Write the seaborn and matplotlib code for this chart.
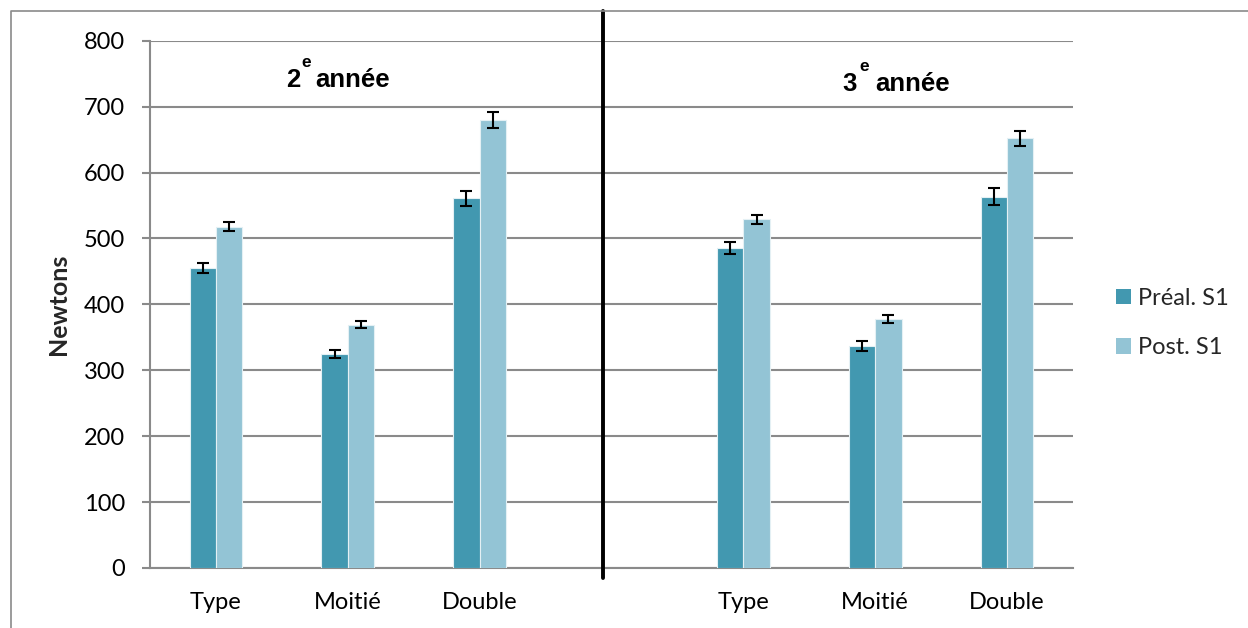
import matplotlib
matplotlib.use("Agg")
import matplotlib.pyplot as plt
from matplotlib.lines import Line2D
from matplotlib.patches import Patch
import seaborn as sns
import pandas as pd

# Exercises measured for each school year
exercises = ["Type", "Moitié", "Double"]
series = ["Préal. S1", "Post. S1"]

# Mean force (N) per exercise
preal_2e = [455, 325, 561]
post_2e = [518, 369, 680]
preal_3e = [486, 337, 563]
post_3e = [529, 378, 652]

# Error bar half-widths (N)
err_preal_2e = [8, 6.5, 11.5]
err_post_2e = [7, 5.5, 12.5]
err_preal_3e = [9, 8, 13]
err_post_3e = [6.5, 6, 11.5]

y_ticks = [0, 100, 200, 300, 400, 500, 600, 700, 800]

dark = "#4298B0"
light = "#93C4D5"

# Slots: three exercises per year, separated by an empty slot
slot_order = [f"2e {e}" for e in exercises] + ["sep"] + [f"3e {e}" for e in exercises]
slot_labels = exercises + [""] + exercises

rows = []
for year, pre, post, epre, epost in [
    ("2e", preal_2e, post_2e, err_preal_2e, err_post_2e),
    ("3e", preal_3e, post_3e, err_preal_3e, err_post_3e),
]:
    for i, ex in enumerate(exercises):
        rows.append({"slot": f"{year} {ex}", "series": series[0], "value": pre[i], "err": epre[i]})
        rows.append({"slot": f"{year} {ex}", "series": series[1], "value": post[i], "err": epost[i]})
df = pd.DataFrame(rows)

sns.set_theme(style="white")
plt.rcParams["font.family"] = ["Lato", "DejaVu Sans"]

fig = plt.figure(figsize=(12.48, 6.28), dpi=100)
ax = fig.add_axes([150 / 1248, 1 - 568 / 628, 923 / 1248, (568 - 40.7) / 628])

sns.barplot(
    data=df, x="slot", y="value", hue="series",
    order=slot_order, hue_order=series, palette=[dark, light], saturation=1,
    width=0.4, errorbar=None, edgecolor="#e4f0f4", linewidth=0.8,
    legend=False, ax=ax, zorder=3,
)

# Error bars placed on the drawn bars
lookup = df.set_index(["slot", "series"])["err"]
for container, name in zip(ax.containers, series):
    for bar in container:
        h = bar.get_height()
        if h != h:
            continue
        xc = bar.get_x() + bar.get_width() / 2
        slot = slot_order[int(round(xc))]
        ax.errorbar(xc, h, yerr=lookup[(slot, name)], fmt="none", ecolor="black",
                    elinewidth=1.5, capsize=4.5, capthick=1.5, zorder=4)

ax.set_ylim(0, 800)
ax.set_yticks(y_ticks)
ax.set_xlim(-0.5, len(slot_order) - 0.5)
ax.set_xticks(range(len(slot_order)))
ax.set_xticklabels(slot_labels)
ax.set_xlabel("")
ax.set_ylabel("Newtons", fontsize=18, fontweight="bold", labelpad=10)

ax.yaxis.grid(True, color="#8a8a8a", linewidth=1.5)
ax.set_axisbelow(True)
for s in ["top", "right"]:
    ax.spines[s].set_visible(False)
for s in ["left", "bottom"]:
    ax.spines[s].set_color("#8a8a8a")
    ax.spines[s].set_linewidth(1.5)
ax.tick_params(axis="y", which="both", left=True, length=6, width=1.5, color="#8a8a8a",
               pad=12, labelsize=17, labelcolor="black")
ax.tick_params(axis="x", length=0, pad=17, labelsize=17, labelcolor="black")


def year_heading(x, y, digit, dx_sup, dx_word):
    """Bold heading like '2e année' with a raised superscript."""
    kw = dict(family="Liberation Sans", fontweight="bold", va="baseline", color="black")
    ax.text(x, y, digit, ha="right", fontsize=18.5, **kw)
    ax.annotate("e", (x, y), xytext=(dx_sup, 14.5), textcoords="offset points",
                ha="left", fontsize=12.5, **kw)
    ax.annotate("année", (x, y), xytext=(dx_word, 0), textcoords="offset points",
                ha="left", fontsize=18.5, **kw)


year_heading(0.638, 730, "2", 0.6, 11.0)
year_heading(4.860, 724, "3", 2.0, 13.0)

# Separator between the two years
fig.add_artist(Line2D([602.7 / 1248, 602.7 / 1248], [1 - 11 / 628, 1 - 578 / 628],
                      color="black", linewidth=2.8, transform=fig.transFigure))

# Chart frame (top and left edges)
fig.add_artist(Line2D([11 / 1248, 11 / 1248, 1.0], [0.0, 1 - 11 / 628, 1 - 11 / 628],
                      color="#8a8a8a", linewidth=1.2, transform=fig.transFigure))

handles = [Patch(facecolor=dark, edgecolor="none"), Patch(facecolor=light, edgecolor="none")]
ax.legend(handles, series, loc="center left", bbox_to_anchor=(1116 / 1248, 1 - 323 / 628),
          bbox_transform=fig.transFigure, frameon=False, fontsize=17,
          handlelength=0.62, handleheight=0.62, handletextpad=0.3,
          labelspacing=1.2, borderpad=0, borderaxespad=0)

fig.savefig("out.png", dpi=100, facecolor="white")
